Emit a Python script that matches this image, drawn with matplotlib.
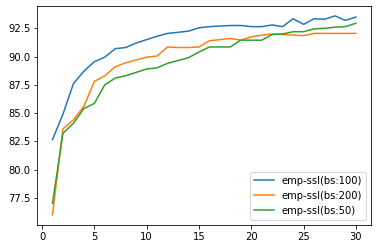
import matplotlib
matplotlib.use("Agg")
import matplotlib.pyplot as plt

# epochs and accuracy per batch size
epochs = list(range(1, 31))

acc_bs100 = [82.65, 84.9, 87.6, 88.7, 89.55, 89.95, 90.7, 90.8, 91.2, 91.5,
             91.8, 92.05, 92.15, 92.25, 92.55, 92.65, 92.7, 92.75, 92.75, 92.65,
             92.65, 92.8, 92.65, 93.35, 92.85, 93.35, 93.3, 93.6, 93.2, 93.5]
acc_bs200 = [76.0, 83.6, 84.4, 85.6, 87.8, 88.3, 89.1, 89.45, 89.7, 89.95,
             90.05, 90.85, 90.8, 90.8, 90.85, 91.4, 91.5, 91.6, 91.45, 91.75,
             91.9, 92.0, 91.95, 91.9, 91.85, 92.05, 92.05, 92.05, 92.05, 92.05]
acc_bs50 = [77.0, 83.2, 84.1, 85.4, 85.85, 87.5, 88.1, 88.3, 88.6, 88.9,
            89.0, 89.4, 89.65, 89.9, 90.4, 90.85, 90.85, 90.85, 91.45, 91.45,
            91.45, 91.95, 92.0, 92.2, 92.2, 92.45, 92.5, 92.6, 92.65, 92.95]

fig = plt.figure(figsize=(378 / 72, 248 / 72), dpi=72)
ax = fig.add_axes([0.0987, 0.094, 0.883, 0.882])

ax.plot(epochs, acc_bs100, label="emp-ssl(bs:100)")
ax.plot(epochs, acc_bs200, label="emp-ssl(bs:200)")
ax.plot(epochs, acc_bs50, label="emp-ssl(bs:50)")

ax.set_xticks([0, 5, 10, 15, 20, 25, 30])
ax.set_yticks([77.5, 80.0, 82.5, 85.0, 87.5, 90.0, 92.5])
ax.legend(loc="lower right")

fig.savefig("out.png", dpi=72)
